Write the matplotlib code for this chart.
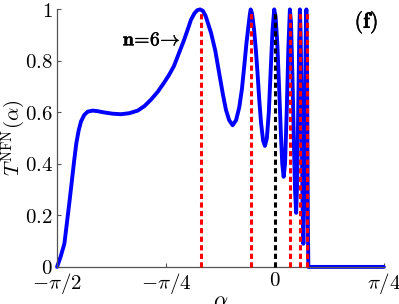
import numpy as np
import matplotlib
matplotlib.use('Agg')
import matplotlib.pyplot as plt
import matplotlib.patheffects as pe

plt.rcParams['mathtext.fontset'] = 'cm'
plt.rcParams['font.family'] = ['DejaVu Serif']

# transmission curve (alpha in rad, T)
alpha = [-1.5708, -1.545, -1.518, -1.500, -1.482, -1.465, -1.448, -1.432, -1.415,
         -1.398, -1.375, -1.350, -1.314, -1.280, -1.232, -1.170, -1.110, -1.050,
         -0.989, -0.940, -0.893, -0.845, -0.800, -0.764, -0.728, -0.692, -0.656,
         -0.630, -0.605, -0.580, -0.560, -0.540, -0.520, -0.500, -0.461, -0.430,
         -0.401, -0.375, -0.353, -0.330, -0.305, -0.280, -0.257, -0.238, -0.221,
         -0.205, -0.192, -0.182, -0.175, -0.165, -0.150, -0.137, -0.125, -0.113,
         -0.100, -0.085, -0.072, -0.058, -0.044, -0.029, -0.017, -0.005,
         0.005, 0.017, 0.030, 0.042, 0.053, 0.063, 0.073, 0.085, 0.097, 0.108,
         0.116, 0.126, 0.136, 0.145, 0.153, 0.160, 0.168, 0.175, 0.180,
         0.186, 0.193, 0.199, 0.205, 0.211, 0.218, 0.224, 0.227,
         0.231, 0.235, 0.238, 0.241, 0.7854]
T = [0.0, 0.04, 0.09, 0.17, 0.25, 0.33, 0.41, 0.48, 0.53,
     0.565, 0.59, 0.603, 0.607, 0.605, 0.600, 0.595, 0.593, 0.597,
     0.607, 0.625, 0.65, 0.68, 0.715, 0.745, 0.78, 0.83, 0.88,
     0.92, 0.96, 0.985, 0.997, 1.0, 0.995, 0.975, 0.91, 0.84,
     0.75, 0.67, 0.61, 0.57, 0.55, 0.57, 0.62, 0.69, 0.78,
     0.87, 0.93, 0.975, 1.0, 0.985, 0.92, 0.84, 0.75, 0.65,
     0.56, 0.49, 0.47, 0.50, 0.60, 0.78, 0.92, 1.0,
     0.97, 0.87, 0.70, 0.53, 0.40, 0.35, 0.40, 0.60, 0.85, 1.0,
     0.95, 0.75, 0.50, 0.30, 0.21, 0.32, 0.60, 0.88, 1.0,
     0.90, 0.55, 0.25, 0.09, 0.30, 0.70, 0.97, 1.0,
     0.85, 0.45, 0.15, 0.0, 0.0]

# resonance positions (dashed lines)
red_lines = [-0.533, -0.173, 0.110, 0.182, 0.231]
black_lines = [0.0]

xticks = [-np.pi / 2, -np.pi / 4, 0, np.pi / 4]
xticklabels = [r'$-\pi/2$', r'$-\pi/4$', r'$0$', r'$\pi/4$']
yticks = [0, 0.2, 0.4, 0.6, 0.8, 1]
yticklabels = [r'$0$', r'$0.2$', r'$0.4$', r'$0.6$', r'$0.8$', r'$1$']

fig = plt.figure(figsize=(3.99, 3.04), dpi=100)
ax = fig.add_axes([0.143, 0.122, 0.819, 0.847])

ax.plot(alpha, T, color='#0000ff', lw=2.8, solid_capstyle='round',
        solid_joinstyle='round', zorder=2, clip_on=False)
for xv in red_lines:
    ax.plot([xv, xv], [0, 0.99], color='#ff0000', lw=2.2,
            linestyle=(0, (1.7, 1.1)), zorder=3, clip_on=False)
for xv in black_lines:
    ax.plot([xv, xv], [0, 0.99], color='black', lw=2.2,
            linestyle=(0, (1.7, 1.1)), zorder=3, clip_on=False)

ax.set_xlim(-np.pi / 2, np.pi / 4)
ax.set_ylim(0, 1)
ax.set_xticks(xticks)
ax.set_xticklabels(xticklabels, fontsize=15)
ax.set_yticks(yticks)
ax.set_yticklabels(yticklabels, fontsize=15)
ax.tick_params(direction='in', length=3, width=0.8, color='#555555', pad=3)

for s in ['top', 'right']:
    ax.spines[s].set_visible(False)
for s in ['left', 'bottom']:
    ax.spines[s].set_color('#555555')
    ax.spines[s].set_linewidth(0.9)

ax.set_ylabel(r'$T^{\rm NFN}(\alpha)$', fontsize=15, labelpad=-2)
ax.set_xlabel(r'$\alpha$', fontsize=16, labelpad=-4)

bold = [pe.withStroke(linewidth=0.35, foreground='black')]
ax.text(-0.68, 0.88, r'$\mathbf{n\!=\!6}\!\rightarrow$', fontsize=14,
        ha='right', va='center', path_effects=bold)
ax.text(0.66, 0.95, r'$\mathbf{(f)}$', fontsize=16, ha='center', va='center',
        path_effects=bold)

fig.savefig('out.png', dpi=100)
